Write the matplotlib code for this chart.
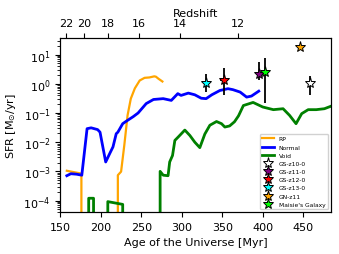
import matplotlib
matplotlib.use('Agg')
import matplotlib.pyplot as plt
import numpy as np

# simulated star formation histories
rp_age = [158, 166, 175, 176, 176.3, 220.8, 221, 225, 229, 233, 237, 242, 248, 254, 260, 266, 268, 271, 276]
rp_sfr = [1.05e-3, 9.5e-4, 8.5e-4, 8.5e-4, 0, 0, 7.4e-4, 9.8e-4, 8e-3, 0.083, 0.31, 0.7, 1.3, 1.6, 1.65, 1.8, 1.75, 1.5, 1.2]

normal_age = [158, 163, 170, 176.5, 183, 188, 196, 199, 206, 211, 215, 219, 221, 227, 233, 240, 246, 256, 265,
              277, 287, 295, 299, 308, 316, 324, 330, 337, 347, 357, 363, 372, 380, 386, 395]
normal_sfr = [7.1e-4, 8.3e-4, 8.0e-4, 7.4e-4, 0.029, 0.031, 0.027, 0.022, 0.0021, 0.0041, 0.0069, 0.0195, 0.022,
              0.043, 0.056, 0.075, 0.10, 0.21, 0.29, 0.31, 0.27, 0.46, 0.40, 0.48, 0.42, 0.32, 0.31, 0.42, 0.59,
              0.68, 0.63, 0.52, 0.35, 0.38, 0.56]

void_age = [160, 184.7, 185, 191, 191.3, 208.3, 208.6, 227, 227.3, 273, 273.2, 277, 283, 285, 288.5, 291.4, 295.5,
            303.7, 309.9, 316, 322.2, 328.4, 334.6, 342.8, 349, 353.1, 359, 365, 370, 376, 388, 400, 413, 425, 433,
            441, 448, 456, 466, 476, 484]
void_sfr = [0, 0, 1.2e-4, 1.2e-4, 0, 0, 9.2e-5, 7.4e-5, 0, 0, 1.0e-3, 7.4e-4, 7.1e-4, 2.1e-3, 3.5e-3, 0.0115,
            0.015, 0.026, 0.017, 0.010, 0.0065, 0.019, 0.038, 0.051, 0.043, 0.033, 0.036, 0.05, 0.08, 0.18, 0.23,
            0.16, 0.13, 0.14, 0.083, 0.043, 0.095, 0.13, 0.13, 0.14, 0.17]

# observed galaxies
gal_names = ['GS-z10-0', 'GS-z11-0', 'GS-z12-0', 'GS-z13-0', 'GN-z11', "Maisie's Galaxy"]
gal_age = [458, 395, 352, 329.6, 446, 403]
gal_sfr = [1.08, 2.1, 1.3, 1.06, 18.8, 2.5]
gal_err_lo = [0.68, 0.8, 0.9, 0.54, 0, 2.28]
gal_err_hi = [0.8, 3.4, 2.1, 1.14, 0, 5.2]
gal_xerr = [0, 0, 5, 0, 0, 0]
gal_colors = ['white', 'purple', 'red', 'cyan', 'orange', 'lime']

redshift_ticks = [22, 20, 18, 16, 14, 12]


def age_at_z(z, H0=67.7, Om=0.31):
    OL = 1 - Om
    hubble_time = 977.8 / H0 * 1000  # Myr
    return 2 / (3 * np.sqrt(OL)) * hubble_time * np.arcsinh(np.sqrt(OL / Om) * (1 + np.asarray(z)) ** -1.5)


plt.rcParams.update({'font.size': 8})
fig = plt.figure(figsize=(3.39, 2.55), dpi=100)
ax = fig.add_axes([0.178, 0.164, 0.798, 0.683])

ax.plot(rp_age, rp_sfr, color='orange', lw=1.6, label='RP')
ax.plot(normal_age, normal_sfr, color='blue', lw=2, label='Normal')
ax.plot(void_age, void_sfr, color='green', lw=2, label='Void')

for name, x, y, lo, hi, xe, c in zip(gal_names, gal_age, gal_sfr, gal_err_lo, gal_err_hi, gal_xerr, gal_colors):
    ax.errorbar(x, y, yerr=[[lo], [hi]], xerr=xe if xe else None, fmt='*', color=c, markersize=8,
                markeredgecolor='black', markeredgewidth=0.7, ecolor='black', elinewidth=1.3, label=name, zorder=5)

ax.set_yscale('log')
ax.set_xlim(150, 484)
ax.set_ylim(4e-5, 37)
ax.set_xlabel('Age of the Universe [Myr]')
ax.set_ylabel(r'SFR [M$_{\odot}$/yr]')
ax.legend(loc='lower right', fontsize=4.3, framealpha=0.9)

ax2 = ax.twiny()
ax2.set_xlim(ax.get_xlim())
ax2.set_xticks(age_at_z(redshift_ticks))
ax2.set_xticklabels([str(z) for z in redshift_ticks])
ax2.set_xlabel('Redshift', labelpad=2)

fig.savefig('out.png', dpi=100)
